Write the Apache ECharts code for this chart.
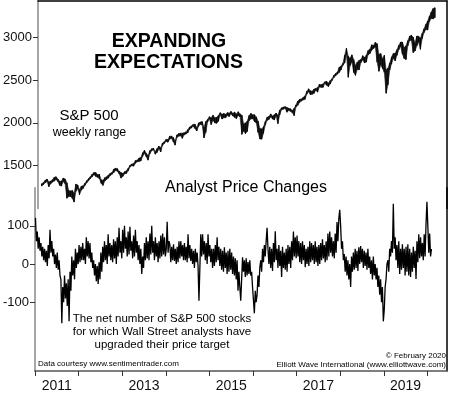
<!DOCTYPE html>
<html>
<head>
<meta charset="utf-8">
<script src="https://cdn.jsdelivr.net/npm/echarts@6/dist/echarts.min.js"></script>
<style>html,body{margin:0;padding:0;background:#fff}#c{width:450px;height:393px}</style>
</head>
<body>
<div id="c"></div>
<script>
// ---- S&P 500 weekly range, sampled as half-month [high, low] ----
const sp2011 = [[1290,1262],[1302,1280],[1330,1300],[1344,1315],[1310,1255],[1320,1290],[1335,1308],[1364,1320],[1370,1338],[1345,1315],[1318,1270],[1320,1262],[1356,1315],[1345,1290],[1300,1120],[1210,1140],[1205,1140],[1210,1120],[1180,1075],[1285,1200],[1275,1230],[1220,1160],[1260,1215],[1265,1235]];
const sp2012 = [[1295,1270],[1325,1300],[1350,1325],[1372,1350],[1400,1370],[1420,1395],[1420,1375],[1395,1365],[1400,1350],[1335,1295],[1330,1270],[1360,1320],[1370,1340],[1390,1355],[1410,1385],[1420,1400],[1460,1420],[1470,1445],[1465,1435],[1435,1405],[1420,1355],[1410,1375],[1430,1405],[1440,1410]];
const sp2013 = [[1470,1440],[1505,1485],[1520,1500],[1525,1495],[1560,1530],[1565,1545],[1590,1550],[1595,1555],[1650,1610],[1680,1645],[1645,1605],[1620,1565],[1675,1640],[1698,1675],[1705,1685],[1665,1635],[1700,1655],[1728,1695],[1710,1660],[1765,1735],[1780,1760],[1808,1785],[1805,1775],[1845,1810]];
const sp2014 = [[1845,1820],[1830,1780],[1790,1740],[1860,1830],[1875,1845],[1880,1850],[1880,1820],[1885,1860],[1895,1870],[1920,1885],[1952,1925],[1965,1940],[1982,1960],[1985,1935],[1945,1905],[2000,1960],[2010,1985],[2015,1975],[1950,1825],[2015,1890],[2040,2010],[2072,2045],[2060,1980],[2090,2030]];
const sp2015 = [[2060,2000],[2065,1995],[2085,2020],[2119,2095],[2100,2045],[2110,2060],[2100,2060],[2120,2085],[2115,2075],[2134,2105],[2112,2080],[2125,2065],[2105,2050],[2130,2085],[2105,2070],[2090,1867],[1990,1905],[2000,1875],[2020,1900],[2085,2025],[2110,2045],[2095,2050],[2095,2015],[2070,2000]];
const sp2016 = [[2020,1890],[1935,1812],[1930,1810],[1955,1880],[2015,1975],[2065,2030],[2075,2040],[2105,2070],[2080,2045],[2095,2035],[2115,2080],[2090,1992],[2150,2095],[2176,2155],[2185,2160],[2190,2170],[2180,2125],[2170,2145],[2165,2135],[2145,2120],[2170,2085],[2210,2185],[2255,2205],[2275,2240]];
const sp2017 = [[2280,2255],[2298,2268],[2315,2275],[2368,2335],[2398,2365],[2375,2330],[2370,2335],[2395,2345],[2403,2380],[2412,2360],[2450,2420],[2447,2415],[2455,2415],[2480,2460],[2485,2440],[2465,2425],[2495,2455],[2515,2495],[2555,2530],[2578,2550],[2595,2570],[2650,2590],[2665,2620],[2694,2672]];
const sp2018 = [[2790,2700],[2872,2800],[2780,2533],[2755,2670],[2795,2710],[2740,2590],[2670,2555],[2710,2625],[2730,2620],[2740,2705],[2785,2735],[2765,2700],[2790,2710],[2845,2795],[2862,2810],[2912,2850],[2905,2870],[2940,2885],[2925,2710],[2800,2603],[2810,2680],[2750,2635],[2790,2590],[2620,2346]];
const sp2019 = [[2640,2445],[2700,2620],[2770,2690],[2810,2755],[2815,2725],[2855,2790],[2905,2855],[2945,2895],[2945,2805],[2880,2752],[2900,2740],[2960,2900],[3012,2960],[3025,2965],[3000,2822],[2935,2840],[3015,2900],[3012,2945],[2990,2860],[3045,2985],[3100,3055],[3150,3090],[3190,3085],[3245,3185]];
const sp2020 = [[3295,3220],[3335,3215],[3345,3230]];

// ---- Analyst price changes, four readings per month ----
const an2011 = [121,60,85,40, 70,35,55,20, 45,10,40,5, 35,-5,50,15, 90,30,60,20, 40,0,25,-10, 30,-15,10,-30, -40,-155,-60,-100, -30,-90,-50,-110, -40,-150,-20,-70, 20,-30,10,-40, 40,-10,30,0];
const an2012 = [50,5,45,10, 55,10,40,0, 70,20,60,15, 55,5,30,-10, 10,-30,0,-45, -5,-52,5,-40, 30,-20,45,5, 60,10,50,0, 78,20,55,10, 50,5,65,15, 60,0,70,20, 95,30,60,15];
const an2013 = [90,30,100,40, 70,20,85,25, 98,35,60,15, 75,20,90,30, 60,10,50,0, 40,-26,20,-10, 55,10,70,15, 60,10,80,25, 100,30,60,10, 70,20,55,5, 60,15,75,20, 80,25,70,20];
const an2014 = [40,111,30,60, 50,5,45,10, 52,8,40,0, 45,5,60,15, 60,20,50,10, 55,10,45,5, 78,15,50,8, 40,0,35,-10, 40,5,30,-5, -96,-10,78,20, 78,25,60,10, 55,0,78,20];
const an2015 = [50,5,40,-10, 40,-5,50,5, 70,10,45,-5, 40,-15,35,-20, 44,-10,30,-26, 35,-20,40,-15, 30,-26,20,-30, 15,-40,10,-70, -20,-60,-96,-40, 18,-20,10,-34, 15,-30,5,-26, 10,-30,-20,-60];
const an2016 = [-60,-129,-70,-100, -80,-30,-60,-10, 10,-20,40,5, 50,20,60,95, 40,0,45,-10, 40,-18,55,5, 86,10,40,-10, 50,-5,35,-34, 45,-10,30,-15, 40,-20,50,0, 45,-10,60,10, 85,20,70,15];
const an2017 = [75,20,60,5, 55,0,60,10, 50,-8,40,0, 45,-5,60,5, 55,10,50,0, 60,5,45,-5, 50,0,55,10, 65,15,50,5, 60,10,80,20, 85,30,70,20, 60,15,80,30, 110,60,120,142];
const an2018 = [100,40,60,10, 26,-20,20,-30, 10,-40,0,-60, 20,-20,30,-15, 40,-10,35,-18, 44,0,47,5, 40,-10,35,-5, 30,-15,40,-10, 20,-26,10,-40, 20,-30,0,-40, -10,-60,-30,-80, -40,-100,-60,-150];
const an2019 = [-120,-60,-40,0, 10,-20,40,20, 60,30,158,40, 70,10,50,-10, 60,-26,40,-15, 52,-10,40,-30, 45,-20,52,-30, 40,-34,30,-20, 45,-10,35,-39, 60,5,78,15, 70,20,55,10, 78,20,104,163];
const an2020 = [100,30,80,20,40];

// ---- Axis ticks and labels ----
const yearTicks = [2011,2012,2013,2014,2015,2016,2017,2018,2019,2020];
const yearLabels = ['2011','2013','2015','2017','2019'];
const spTicks = [1500,2000,2500,3000];
const analystTicks = [-100,0,100];

const spYears = [[2011,sp2011],[2012,sp2012],[2013,sp2013],[2014,sp2014],[2015,sp2015],[2016,sp2016],[2017,sp2017],[2018,sp2018],[2019,sp2019],[2020,sp2020]];
const anYears = [[2011,an2011],[2012,an2012],[2013,an2013],[2014,an2014],[2015,an2015],[2016,an2016],[2017,an2017],[2018,an2018],[2019,an2019],[2020,an2020]];

const SP_LAG = 0.065; // plotted weekly bars sit slightly after the period start in the source
const spData = [];
spYears.forEach(([y, arr]) => arr.forEach((p, j) => spData.push([y + (j + 0.5) / 24 + SP_LAG, p[0], p[1]])));
const anData = [];
anYears.forEach(([y, arr]) => arr.forEach((v, j) => anData.push([y + (j + 0.5) / 48, v])));

const FONT = '"Liberation Sans", Arial, Helvetica, sans-serif';
const X_MIN = 2011, X_MAX = 2020.45;

const chart = echarts.init(document.getElementById('c'), null, {renderer: 'canvas'});

function txt(text, x, y, size, opts) {
  opts = opts || {};
  return {
    type: 'text', x: x, y: y, z: 100,
    style: {
      text: text, fill: '#000', fontSize: size, fontFamily: FONT,
      fontWeight: opts.bold ? 'bold' : 'normal',
      align: opts.align || 'center', verticalAlign: 'middle'
    }
  };
}

const option = {
  backgroundColor: '#fff',
  animation: false,
  grid: [
    {left: 35, right: 3, top: 1, height: 207.5},
    {left: 35, right: 3, top: 187.7, bottom: 20}
  ],
  xAxis: [
    {gridIndex: 0, type: 'value', min: X_MIN, max: X_MAX, position: 'top',
     axisLine: {show: true, onZero: false, lineStyle: {color: '#000', width: 1.5}},
     axisTick: {show: false}, axisLabel: {show: false}, splitLine: {show: false}},
    {gridIndex: 1, type: 'value', min: X_MIN, max: X_MAX, position: 'bottom',
     axisLine: {show: true, onZero: false, lineStyle: {color: '#555', width: 1.5}},
     axisTick: {show: true, customValues: yearTicks, length: 5, lineStyle: {color: '#333', width: 1}},
     axisLabel: {show: true, customValues: yearLabels.map(s => +s + 0.5),
                 formatter: v => String(Math.floor(v)), fontSize: 14, margin: 8, color: '#111', fontFamily: FONT},
     splitLine: {show: false}}
  ],
  yAxis: [
    {gridIndex: 0, type: 'value', min: 1000, max: 3424, position: 'left',
     axisLine: {show: true, onZero: false, lineStyle: {color: '#888', width: 1.5}},
     axisTick: {show: true, customValues: spTicks, length: 5, lineStyle: {color: '#333'}},
     axisLabel: {show: true, customValues: spTicks, formatter: v => String(v), fontSize: 13, margin: 6, color: '#111', fontFamily: FONT},
     splitLine: {show: false}},
    {gridIndex: 0, type: 'value', min: 1000, max: 3424, position: 'right',
     axisLine: {show: true, onZero: false, lineStyle: {color: '#000', width: 1.5}},
     axisTick: {show: false}, axisLabel: {show: false}, splitLine: {show: false}},
    {gridIndex: 1, type: 'value', min: -280, max: 200, position: 'left',
     axisLine: {show: true, onZero: false, lineStyle: {color: '#888', width: 1.5}},
     axisTick: {show: true, customValues: analystTicks, length: 5, lineStyle: {color: '#333'}},
     axisLabel: {show: true, customValues: analystTicks, formatter: v => String(v), fontSize: 13, margin: 6, color: '#111', fontFamily: FONT},
     splitLine: {show: false}},
    {gridIndex: 1, type: 'value', min: -280, max: 200, position: 'right',
     axisLine: {show: true, onZero: false, lineStyle: {color: '#000', width: 1.5}},
     axisTick: {show: false}, axisLabel: {show: false}, splitLine: {show: false}}
  ],
  series: [
    {
      name: 'S&P 500 weekly range', type: 'custom', xAxisIndex: 0, yAxisIndex: 0,
      data: spData, encode: {x: 0, y: [1, 2]}, clip: false,
      renderItem: function (params, api) {
        const i = params.dataIndex;
        const cur = spData[i];
        const nxt = spData[Math.min(i + 1, spData.length - 1)];
        const a = api.coord([cur[0], cur[1]]);
        const b = api.coord([nxt[0], nxt[1]]);
        const c = api.coord([nxt[0], nxt[2]]);
        const d = api.coord([cur[0], cur[2]]);
        return {
          type: 'group',
          children: [
            {type: 'polygon', shape: {points: [a, b, c, d]}, style: {fill: '#222', stroke: '#222', lineWidth: 0.6}},
            {type: 'line', shape: {x1: a[0], y1: a[1], x2: d[0], y2: d[1]}, style: {stroke: '#000', lineWidth: 1}}
          ]
        };
      }
    },
    {
      name: 'Analyst Price Changes', type: 'line', xAxisIndex: 1, yAxisIndex: 2,
      data: anData, showSymbol: false, symbol: 'none', sampling: null,
      lineStyle: {color: '#000', width: 1.3}
    }
  ],
  graphic: [
    txt('EXPANDING', 169, 42, 19.5, {bold: true}),
    txt('EXPECTATIONS', 168.5, 63, 19.5, {bold: true}),
    txt('S&P 500', 89, 116, 15),
    txt('weekly range', 89.5, 133, 12.5),
    txt('Analyst Price Changes', 246, 188, 16),
    txt('The net number of S&P 500 stocks', 162, 319, 11.5),
    txt('for which Wall Street analysts have', 162, 332, 11.5),
    txt('upgraded their price target', 162, 345, 11.5),
    txt('Data courtesy www.sentimentrader.com', 38, 364, 8, {align: 'left'}),
    txt('\u00A9 February 2020', 446, 356, 8, {align: 'right'}),
    txt('Elliott Wave International (www.elliottwave.com)', 446, 365, 8, {align: 'right'})
  ]
};
chart.setOption(option);
</script>
</body>
</html>
